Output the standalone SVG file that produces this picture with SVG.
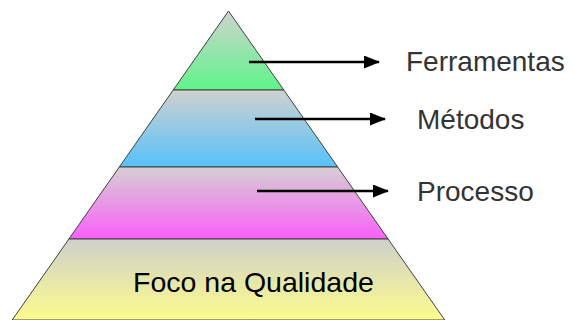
<svg xmlns="http://www.w3.org/2000/svg" width="572" height="320" viewBox="0 0 572 320">
<defs>
<linearGradient id="gG" x1="0" y1="0" x2="0" y2="1"><stop offset="0" stop-color="#cfd3cf"/><stop offset="1" stop-color="#5ef58a"/></linearGradient>
<linearGradient id="gB" x1="0" y1="0" x2="0" y2="1"><stop offset="0" stop-color="#cfd1cf"/><stop offset="1" stop-color="#56c2fa"/></linearGradient>
<linearGradient id="gP" x1="0" y1="0" x2="0" y2="1"><stop offset="0" stop-color="#d6cfd2"/><stop offset="1" stop-color="#fa60fa"/></linearGradient>
<linearGradient id="gY" x1="0" y1="0" x2="0" y2="1"><stop offset="0" stop-color="#cfcfcb"/><stop offset="1" stop-color="#fcfc8e"/></linearGradient>
<marker id="ah" viewBox="0 0 16 13" refX="15" refY="6.5" markerWidth="16" markerHeight="13" markerUnits="userSpaceOnUse" orient="auto"><path d="M0,0 L16,6.5 L0,13 Z" fill="#000"/></marker>
<style>
.layer{stroke:#404040;stroke-width:1}
.lbl{font-family:"Liberation Sans",Arial,sans-serif;font-size:28px;fill:#333}
.arr{stroke:#000;stroke-width:2.5;fill:none;marker-end:url(#ah)}
</style>
</defs>
<g id="layer-ferramentas"><polygon class="layer" fill="url(#gG)" points="228.5,11 283.8,90 173.2,90"/></g>
<g id="layer-metodos"><polygon class="layer" fill="url(#gB)" points="173.2,90 283.8,90 337.7,167 119.3,167"/></g>
<g id="layer-processo"><polygon class="layer" fill="url(#gP)" points="119.3,167 337.7,167 388.1,239 68.9,239"/></g>
<g id="layer-foco"><polygon class="layer" fill="url(#gY)" points="68.9,239 388.1,239 444.8,320 12.2,320"/>
<text x="133" y="292" style="font-family:'Liberation Sans',Arial,sans-serif;font-size:28.5px;fill:#000">Foco na Qualidade</text></g>
<g id="connectors">
<line class="arr" x1="249" y1="62" x2="379" y2="62"/>
<line class="arr" x1="255" y1="119" x2="385" y2="119"/>
<line class="arr" x1="257" y1="191" x2="388" y2="191"/>
</g>
<g id="label-ferramentas"><text class="lbl" x="406" y="71">Ferramentas</text></g>
<g id="label-metodos"><text class="lbl" x="417" y="129">Métodos</text></g>
<g id="label-processo"><text class="lbl" x="417" y="201">Processo</text></g>
</svg>
